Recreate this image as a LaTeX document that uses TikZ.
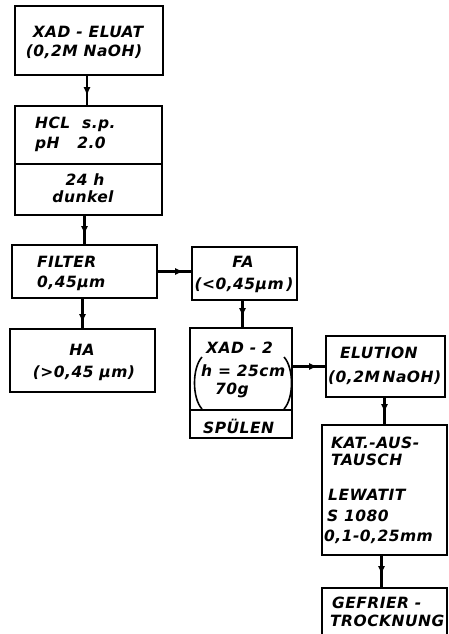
\documentclass[tikz,border=0pt]{standalone}
\usepackage{fontspec}
\setmainfont{DejaVu Sans}[LetterSpace=3]
\usetikzlibrary{arrows.meta}
\begin{document}
\begin{tikzpicture}[x=1pt,y=-1pt,
  box/.style={draw, line width=1.7pt, inner sep=0pt},
  txt/.style={font=\bfseries\itshape\fontsize{15.5}{18}\selectfont, inner sep=0pt},
  flow/.style={draw, line width=2.2pt,
    postaction={draw, line width=2.2pt, -{Latex[length=9pt,width=7pt]}, shorten >=#1}},
  flow/.default=7pt]
\clip (0,0) rectangle (448,634);
\fill[white] (0,0) rectangle (448,634);
% boxes
\node[box, minimum width=148pt, minimum height=69pt] (A) at (89,40.5) {};
\node[box, minimum width=147pt, minimum height=109pt] (B) at (88.5,160.5) {};
\node[box, minimum width=145pt, minimum height=53pt] (C) at (84.5,271.5) {};
\node[box, minimum width=145pt, minimum height=63pt] (D) at (82.5,360.5) {};
\node[box, minimum width=105pt, minimum height=53pt] (E) at (244.5,273.5) {};
\node[box, minimum width=102pt, minimum height=110pt] (F) at (241,383) {};
\node[box, minimum width=119pt, minimum height=61pt] (G) at (385.5,366.5) {};
\node[box, minimum width=125pt, minimum height=130pt] (H) at (384.5,490) {};
\node[box, minimum width=125pt, minimum height=60pt] (I) at (384.5,618) {};
% dividers
\draw[line width=1.7pt] (B.west |- 0,164) -- (B.east |- 0,164);
\draw[line width=1.7pt] (F.west |- 0,410) -- (F.east |- 0,410);
% parentheses
\draw[line width=1.6pt] (202,357) .. controls (192,368) and (192,398) .. (202,409);
\draw[line width=1.6pt] (284,357) .. controls (294,368) and (294,398) .. (284,409);
% texts
\node[txt] (tA1) at (88,32) {XAD - ELUAT};
\node[txt] (tA2) at (84,52) {(0,2M NaOH)};
\node[txt, anchor=west] (tB1) at (35,124) {HCL\ \ s.p.};
\node[txt, anchor=west] (tB2) at (35,144) {pH\ \ \ 2.0};
\node[txt] (tB3) at (85,180) {24 h};
\node[txt] (tB4) at (83,197) {dunkel};
\node[txt, anchor=west] (tC1) at (37,262) {FILTER};
\node[txt, anchor=west] (tC2) at (37,283) {0,45μm};
\node[txt] (tD1) at (82,350) {HA};
\node[txt] (tD2) at (84,373) {(>0,45 μm)};
\node[txt] (tE1) at (243,262) {FA};
\node[txt] (tE2) at (244,285) {(<0,45μm\,)};
\node[txt, anchor=west] (tF1) at (206,348) {XAD - 2};
\node[txt, anchor=west] (tF2) at (201,371) {h = 25cm};
\node[txt, anchor=west] (tF3) at (215,390) {70g};
\node[txt, anchor=west] (tF4) at (203,426) {SPÜLEN};
\node[txt, anchor=west] (tG1) at (340,353) {ELUTION};
\node[txt, anchor=west] (tG2) at (328,378) {(0,2M\,NaOH)};
\node[txt, anchor=west] (tH1) at (331,443) {KAT.-AUS-};
\node[txt, anchor=west] (tH2) at (331,460) {TAUSCH};
\node[txt, anchor=west] (tH3) at (328,495) {LEWATIT};
\node[txt, anchor=west] (tH4) at (327,516) {S 1080};
\node[txt, anchor=west] (tH5) at (324,537) {0,1-0,25mm};
\node[txt, anchor=west] (tI1) at (332,603) {GEFRIER -};
\node[txt, anchor=west] (tI2) at (330,621) {TROCKNUNG};
% connectors
\coordinate (a1) at ([xshift=-2pt]A.south);
\path[flow=9pt] (a1) -- (a1 |- B.north);
\coordinate (b1) at ([xshift=-4pt]B.south);
\path[flow=9pt] (b1) -- (b1 |- C.north);
\coordinate (c1) at ([xshift=-2pt]C.south);
\path[flow=5pt] (c1) -- (c1 |- D.north);
\path[flow=7pt] (C.east) -- (C.east -| E.west);
\coordinate (e1) at ([xshift=-2pt]E.south);
\path[flow=10pt] (e1) -- (e1 |- F.north);
\path[flow=7pt] (F.east |- G.west) -- (G.west);
\coordinate (g1) at ([xshift=-1pt]G.south);
\path[flow=11pt] (g1) -- (g1 |- H.north);
\coordinate (h1) at ([xshift=-3pt]H.south);
\path[flow=12pt] (h1) -- (h1 |- I.north);
\end{tikzpicture}
\end{document}
